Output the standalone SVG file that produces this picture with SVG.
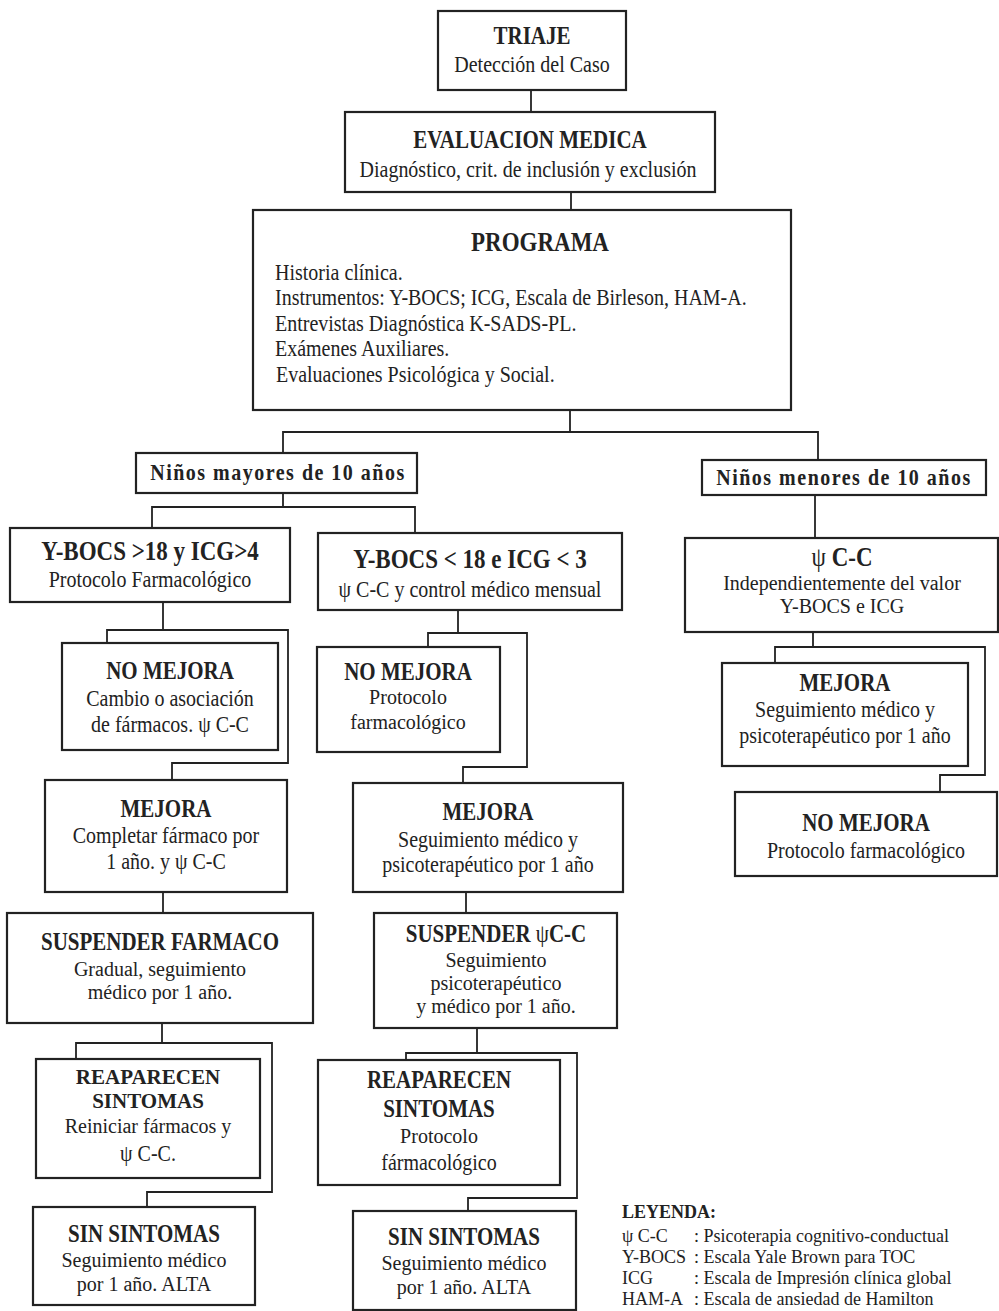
<svg xmlns="http://www.w3.org/2000/svg" width="999" height="1311" viewBox="0 0 999 1311">
<style>
.box{fill:#fff;stroke:#222;stroke-width:2.2}
.c{fill:none;stroke:#222;stroke-width:1.8}
text{font-family:"Liberation Serif","Times New Roman",serif;fill:#222;text-anchor:middle;transform-box:fill-box;transform-origin:50% 80.5%;transform:scale(1,1.18)}
.h{font-weight:bold;font-size:21px}
.hb{font-weight:bold;font-size:23px}
.t{font-size:20px}
.s{text-anchor:start}
.n{font-weight:normal}
.k{font-weight:bold;font-size:20px;letter-spacing:1.5px}
.lg{font-size:18px;text-anchor:start;transform:none}
.ns{transform:none}
</style>
<rect width="999" height="1311" fill="#fff"/>
<g id="connectors">
<path class="c" d="M531,90V112"/>
<path class="c" d="M571,192V210"/>
<path class="c" d="M570,410V432H283V453M570,432H818V460"/>
<path class="c" d="M283,493V507H152V528M283,507H415V533"/>
<path class="c" d="M815,495V538"/>
<path class="c" d="M163,602V630M107,643V630H288V763H172V780"/>
<path class="c" d="M163,892V913"/>
<path class="c" d="M162,1023V1043M76,1059V1043H272V1192H147V1207"/>
<path class="c" d="M458,610V633M428,647V633H527V767H463V783"/>
<path class="c" d="M466,892V913"/>
<path class="c" d="M477,1028V1053M406,1060V1053H577V1198H468V1211"/>
<path class="c" d="M813,632V647M775,663V647H985V775H940V792"/>
</g>
<g id="triaje">
<rect class="box" x="438" y="11" width="188" height="79"/>
<text class="h" x="532" y="44">TRIAJE</text>
<text class="t" x="532" y="72">Detección del Caso</text>
</g>
<g id="evaluacion">
<rect class="box" x="345" y="112" width="370" height="80"/>
<text class="h" x="530" y="148">EVALUACION MEDICA</text>
<text class="t" x="528" y="177">Diagnóstico, crit. de inclusión y exclusión</text>
</g>
<g id="programa">
<rect class="box" x="253" y="210" width="538" height="200"/>
<text class="hb" x="540" y="251">PROGRAMA</text>
<text class="t s" x="275" y="280">Historia clínica.</text>
<text class="t s" x="275" y="305">Instrumentos: Y-BOCS; ICG, Escala de Birleson, HAM-A.</text>
<text class="t s" x="275" y="331">Entrevistas Diagnóstica K-SADS-PL.</text>
<text class="t s" x="275" y="356">Exámenes Auxiliares.</text>
<text class="t s" x="276" y="382">Evaluaciones Psicológica y Social.</text>
</g>
<g id="mayores">
<rect class="box" x="136" y="453" width="281" height="40"/>
<text class="k" x="278" y="480">Niños mayores de 10 años</text>
</g>
<g id="menores">
<rect class="box" x="702" y="460" width="284" height="35"/>
<text class="k" x="844" y="485">Niños menores de 10 años</text>
</g>
<g id="ybocs-alto">
<rect class="box" x="10" y="528" width="280" height="74"/>
<text class="hb" x="150" y="560">Y-BOCS &gt;18 y ICG&gt;4</text>
<text class="t" x="150" y="587">Protocolo Farmacológico</text>
</g>
<g id="ybocs-bajo">
<rect class="box" x="318" y="533" width="304" height="77"/>
<text class="hb" x="470" y="568">Y-BOCS &lt; 18 e ICG &lt; 3</text>
<text class="t" x="470" y="597">ψ C-C y control médico mensual</text>
</g>
<g id="psi-cc">
<rect class="box" x="685" y="538" width="313" height="94"/>
<text class="hb" x="842" y="566"><tspan class="n">ψ</tspan> C-C</text>
<text class="t ns" x="842" y="590">Independientemente del valor</text>
<text class="t ns" x="842" y="613">Y-BOCS e ICG</text>
</g>
<g id="no-mejora-1">
<rect class="box" x="62" y="643" width="216" height="107"/>
<text class="h" x="170" y="679">NO MEJORA</text>
<text class="t" x="170" y="706">Cambio o asociación</text>
<text class="t" x="170" y="732">de fármacos. ψ C-C</text>
</g>
<g id="mejora-1">
<rect class="box" x="45" y="780" width="242" height="112"/>
<text class="h" x="166" y="817">MEJORA</text>
<text class="t" x="166" y="843">Completar fármaco por</text>
<text class="t" x="166" y="869">1 año. y  ψ C-C</text>
</g>
<g id="suspender-1">
<rect class="box" x="7" y="913" width="306" height="110"/>
<text class="h" x="160" y="950">SUSPENDER FARMACO</text>
<text class="t ns" x="160" y="976">Gradual, seguimiento</text>
<text class="t ns" x="160" y="999">médico por 1 año.</text>
</g>
<g id="reaparecen-1">
<rect class="box" x="36" y="1059" width="224" height="119"/>
<text class="h ns" x="148" y="1084">REAPARECEN</text>
<text class="h ns" x="148" y="1108">SINTOMAS</text>
<text class="t ns" x="148" y="1133">Reiniciar fármacos y</text>
<text class="t" x="148" y="1161">ψ C-C.</text>
</g>
<g id="sin-sintomas-1">
<rect class="box" x="33" y="1207" width="222" height="98"/>
<text class="h" x="144" y="1242">SIN SINTOMAS</text>
<text class="t ns" x="144" y="1267">Seguimiento médico</text>
<text class="t ns" x="144" y="1291">por 1 año.  ALTA</text>
</g>
<g id="no-mejora-2">
<rect class="box" x="317" y="647" width="183" height="105"/>
<text class="h" x="408" y="680">NO MEJORA</text>
<text class="t ns" x="408" y="704">Protocolo</text>
<text class="t ns" x="408" y="729">farmacológico</text>
</g>
<g id="mejora-2">
<rect class="box" x="353" y="783" width="270" height="109"/>
<text class="h" x="488" y="820">MEJORA</text>
<text class="t" x="488" y="847">Seguimiento médico y</text>
<text class="t" x="488" y="872">psicoterapéutico por 1 año</text>
</g>
<g id="suspender-2">
<rect class="box" x="374" y="913" width="243" height="115"/>
<text class="h" x="496" y="942">SUSPENDER <tspan class="n">ψ</tspan>C-C</text>
<text class="t ns" x="496" y="967">Seguimiento</text>
<text class="t ns" x="496" y="990">psicoterapéutico</text>
<text class="t ns" x="496" y="1013">y médico por 1 año.</text>
</g>
<g id="reaparecen-2">
<rect class="box" x="318" y="1060" width="242" height="125"/>
<text class="h" x="439" y="1088">REAPARECEN</text>
<text class="h" x="439" y="1117">SINTOMAS</text>
<text class="t ns" x="439" y="1143">Protocolo</text>
<text class="t" x="439" y="1170">fármacológico</text>
</g>
<g id="sin-sintomas-2">
<rect class="box" x="353" y="1211" width="223" height="99"/>
<text class="h" x="464" y="1245">SIN SINTOMAS</text>
<text class="t ns" x="464" y="1270">Seguimiento médico</text>
<text class="t ns" x="464" y="1294">por 1 año. ALTA</text>
</g>
<g id="mejora-3">
<rect class="box" x="722" y="663" width="246" height="103"/>
<text class="h" x="845" y="691">MEJORA</text>
<text class="t" x="845" y="717">Seguimiento médico y</text>
<text class="t" x="845" y="743">psicoterapéutico por 1 año</text>
</g>
<g id="no-mejora-3">
<rect class="box" x="735" y="792" width="262" height="84"/>
<text class="h" x="866" y="831">NO MEJORA</text>
<text class="t" x="866" y="858">Protocolo farmacológico</text>
</g>
<g id="leyenda">
<text class="lg" x="622" y="1218" style="font-weight:bold">LEYENDA:</text>
<text class="lg" x="622" y="1242">ψ C-C</text>
<text class="lg" x="694" y="1242">: Psicoterapia cognitivo-conductual</text>
<text class="lg" x="622" y="1263">Y-BOCS</text>
<text class="lg" x="694" y="1263">: Escala Yale Brown para TOC</text>
<text class="lg" x="622" y="1284">ICG</text>
<text class="lg" x="694" y="1284">: Escala de Impresión clínica global</text>
<text class="lg" x="622" y="1305">HAM-A</text>
<text class="lg" x="694" y="1305">: Escala de ansiedad de Hamilton</text>
</g>
</svg>
